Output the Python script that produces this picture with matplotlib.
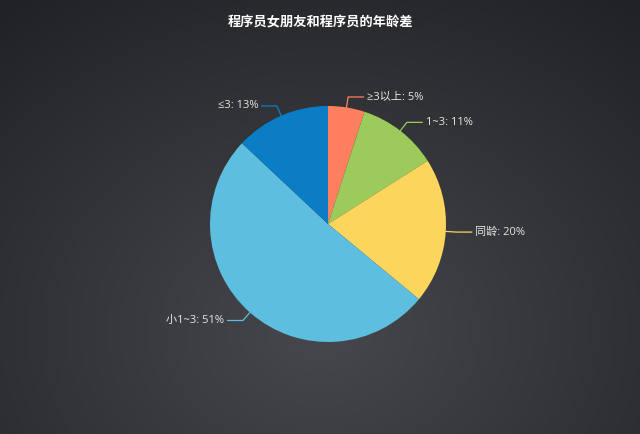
import numpy as np
import matplotlib
matplotlib.use("Agg")
import matplotlib.pyplot as plt

plt.rcParams['font.family'] = ['Noto Sans CJK SC', 'DejaVu Sans']

# data
labels = ['≥3以上', '1~3', '同龄', '小1~3', '≤3']
values = [5, 11, 20, 51, 13]
colors = ['#FF7F5F', '#9CCB5C', '#FCD55C', '#5EBEDF', '#0A7DC4']

fig = plt.figure(figsize=(6.4, 4.34), dpi=100)

# radial background
bg = fig.add_axes([0, 0, 1, 1])
yy, xx = np.mgrid[0:434, 0:640]
d = np.sqrt(((xx - 320) / 520) ** 2 + ((yy - 330) / 420) ** 2)
d = np.clip(d, 0, 1)
c_in = np.array([0x46, 0x48, 0x4d]) / 255
c_out = np.array([0x20, 0x21, 0x24]) / 255
img = c_in[None, None, :] * (1 - d[..., None]) + c_out[None, None, :] * d[..., None]
bg.imshow(img, aspect='auto', extent=[0, 1, 0, 1])
bg.set_axis_off()

fig.text(0.5, 0.948, '程序员女朋友和程序员的年龄差', color='white',
         fontsize=9.5, fontweight='bold', ha='center', va='center')

# pie axes: center ~(328,224), radius ~118 px
r_px = 118
cx, cy = 328, 224
ax = fig.add_axes([(cx - r_px) / 640, (434 - cy - r_px) / 434,
                   2 * r_px / 640, 2 * r_px / 434])
wedges, _ = ax.pie(values, colors=colors, startangle=90, counterclock=False,
                   radius=1, wedgeprops=dict(linewidth=0))
ax.set_xlim(-1, 1)
ax.set_ylim(-1, 1)
ax.set_aspect('auto')
ax.set_axis_off()

for w, lab, v, c in zip(wedges, labels, values, colors):
    ang = np.deg2rad((w.theta1 + w.theta2) / 2)
    x0, y0 = np.cos(ang), np.sin(ang)
    x1, y1 = 1.09 * x0, 1.09 * y0
    s = 1 if x0 >= 0 else -1
    x2 = x1 + s * 0.13
    ax.plot([x0, x1, x2], [y0, y1, y1], color=c, lw=0.9, clip_on=False)
    ax.text(x2 + s * 0.03, y1, f'{lab}: {v}%', color='#e6e6e6', fontsize=8,
            family=['Open Sans', 'Noto Sans CJK SC', 'DejaVu Sans'],
            ha='left' if s > 0 else 'right', va='center')

fig.savefig('out.png', dpi=100, facecolor='#2a2b2f')
